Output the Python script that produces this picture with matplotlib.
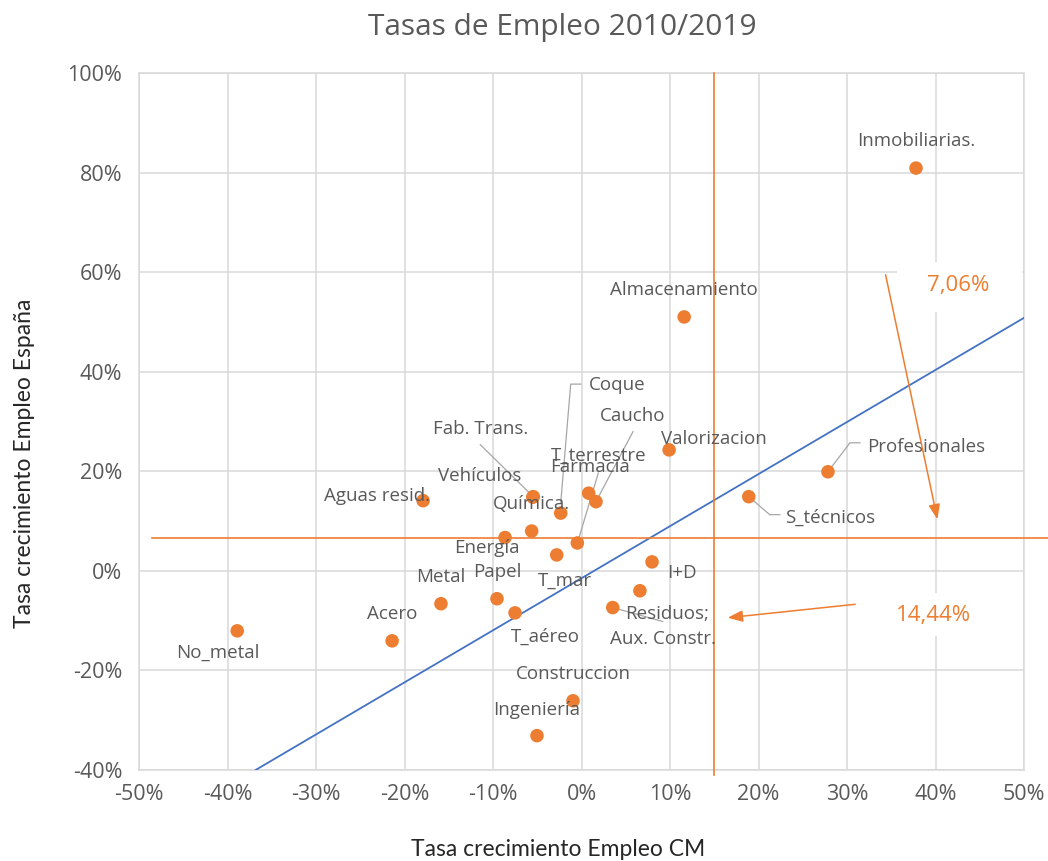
import matplotlib
matplotlib.use("Agg")
import matplotlib.pyplot as plt
from matplotlib import font_manager
from matplotlib.patches import Rectangle
import numpy as np

# ---------------- data ----------------
sectors = ["Inmobiliarias.", "Almacenamiento", "Valorizacion", "Profesionales", "S_técnicos",
           "Aguas resid.", "Fab. Trans.", "Vehículos", "Coque", "Farmacia", "Caucho",
           "Química.", "Energía", "T_terrestre", "T_mar", "I+D", "Aux. Constr.", "Residuos;",
           "Metal", "Papel", "T_aéreo", "Acero", "No_metal", "Construccion", "Ingeniería"]
growth_cm = [0.378, 0.116, 0.099, 0.2785, 0.189,
             -0.179, -0.0545, -0.055, -0.0235, 0.0081, 0.0164,
             -0.0563, -0.0864, -0.0047, -0.028, 0.0797, 0.066, 0.0353,
             -0.1588, -0.0955, -0.0751, -0.214, -0.389, -0.0096, -0.0503]
growth_es = [0.809, 0.510, 0.243, 0.199, 0.149,
             0.141, 0.149, 0.148, 0.116, 0.156, 0.139,
             0.080, 0.067, 0.056, 0.032, 0.018, -0.040, -0.0737,
             -0.066, -0.056, -0.0844, -0.1406, -0.1205, -0.261, -0.331]

ref_es_line = 0.066      # horizontal reference line (labelled 7,06%)
ref_cm_line = 0.1497     # vertical reference line (labelled 14,44%)
ref_es_text = "7,06%"
ref_cm_text = "14,44%"
trend_slope = 1.046
trend_intercept = -0.0148

x_ticks = [-0.5, -0.4, -0.3, -0.2, -0.1, 0.0, 0.1, 0.2, 0.3, 0.4, 0.5]
y_ticks = [-0.4, -0.2, 0.0, 0.2, 0.4, 0.6, 0.8, 1.0]
x_tick_labels = ["-50%", "-40%", "-30%", "-20%", "-10%", "0%", "10%", "20%", "30%", "40%", "50%"]
y_tick_labels = ["-40%", "-20%", "0%", "20%", "40%", "60%", "80%", "100%"]

# ---------------- style ----------------
def has_font(name):
    try:
        font_manager.findfont(name, fallback_to_default=False)
        return True
    except Exception:
        return False

MAIN_FONT = "Open Sans" if has_font("Open Sans") else "DejaVu Sans"
NARROW_FONT = "Lato" if has_font("Lato") else MAIN_FONT
plt.rcParams["font.family"] = [MAIN_FONT, "DejaVu Sans"]

GRAY = "#595959"
GRID = "#d9d9d9"
ORANGE = "#ED7D31"
BLUE = "#4472C4"

W, H = 1048, 861
fig = plt.figure(figsize=(W / 100, H / 100), dpi=100)
L, R, T, B = 139, 1024, 73, 770
ax = fig.add_axes([L / W, 1 - B / H, (R - L) / W, (B - T) / H])
ax.set_xlim(-0.5, 0.5)
ax.set_ylim(-0.4, 1.0)
ax.set_xticks(x_ticks)
ax.set_yticks(y_ticks)
ax.set_xticklabels(x_tick_labels)
ax.set_yticklabels(y_tick_labels)
ax.tick_params(length=0, labelsize=15.5, colors=GRAY)
ax.tick_params(axis="y", pad=12)
ax.tick_params(axis="x", pad=10)
ax.grid(True, color=GRID, linewidth=1.1)
ax.set_axisbelow(True)
for s in ax.spines.values():
    s.set_color(GRID)
    s.set_linewidth(1.1)

# px -> data helpers (for label offsets / annotation placement)
sx = 1.0 / (R - L)
sy = 1.4 / (B - T)

def px2data(px, py):
    return (-0.5 + (px - L) * sx, 1.0 - (py - T) * sy)

# trend line
tx = np.array([(-0.4 - trend_intercept) / trend_slope, 0.5])
ax.plot(tx, trend_intercept + trend_slope * tx, color=BLUE, lw=1.3, zorder=3)

# reference lines
ax.plot([-0.5 + 13 * sx, 0.5 + 24 * sx], [ref_es_line, ref_es_line], color=ORANGE, lw=1.2,
        clip_on=False, zorder=3)
ax.plot([ref_cm_line, ref_cm_line], [1.0, -0.4 - 5 * sy], color=ORANGE, lw=1.2,
        clip_on=False, zorder=3)

# points
ax.scatter(growth_cm, growth_es, s=95, color=ORANGE, edgecolors="none", zorder=5)

# label offsets in pixels (dx right, dy down)
label_offsets = {
    "Inmobiliarias.": (0, -27), "Almacenamiento": (0, -27), "Valorizacion": (45, -11),
    "Profesionales": (98, -25), "S_técnicos": (81, 21), "Aguas resid.": (-46, -5),
    "Fab. Trans.": (-53, -68), "Vehículos": (-53, -21), "Coque": (56, -128),
    "Farmacia": (1, -26), "Caucho": (37, -86), "Química.": (0, -27),
    "Energía": (-18, 10), "T_terrestre": (21, -87), "T_mar": (8, 26),
    "I+D": (30, 11), "Aux. Constr.": (23, 48), "Residuos;": (54, 6),
    "Metal": (0, -27), "Papel": (0, -27), "T_aéreo": (30, 24), "Acero": (0, -27),
    "No_metal": (-19, 22), "Construccion": (0, -27), "Ingeniería": (0, -26),
}
# leader polylines, pixel offsets from the point
leaders = {
    "Fab. Trans.": [(0, 0), (-53, -52)],
    "Coque": [(0, -10), (10, -129), (20, -129)],
    "Caucho": [(1, -2), (37, -70)],
    "T_terrestre": [(1, -3), (21, -70)],
    "Residuos;": [(0, 0), (50, 14)],
    "Profesionales": [(0, 0), (22, -29), (32, -29)],
    "S_técnicos": [(0, 0), (21, 18), (31, 18)],
}

for name, xv, yv in zip(sectors, growth_cm, growth_es):
    dx, dy = label_offsets[name]
    ax.text(xv + dx * sx, yv - dy * sy, name, ha="center", va="center",
            fontsize=13.5, color=GRAY, zorder=6)
    if name in leaders:
        pts = leaders[name]
        ax.plot([xv + p[0] * sx for p in pts], [yv - p[1] * sy for p in pts],
                color="#a6a6a6", lw=0.9, zorder=4, clip_on=False)

# annotation boxes (white) and arrows
for (x0, y0, x1, y1) in [(897, 262, 1022, 312), (872, 593, 998, 636)]:
    (dx0, dy0), (dx1, dy1) = px2data(x0, y1), px2data(x1, y0)
    ax.add_patch(Rectangle((dx0, dy0), dx1 - dx0, dy1 - dy0, fc="white", ec="none",
                           zorder=2.5, clip_on=False))

arrow_kw = dict(arrowstyle="-|>,head_length=0.9,head_width=0.35", color=ORANGE, lw=1.1)
ax.annotate("", xy=px2data(938, 522), xytext=px2data(885, 272), arrowprops=arrow_kw, zorder=7)
ax.text(*px2data(958, 286), ref_es_text, ha="center", va="center", fontsize=16, color=ORANGE,
        zorder=6)
ax.annotate("", xy=px2data(725, 618), xytext=px2data(858, 604), arrowprops=arrow_kw, zorder=7)
ax.text(*px2data(933, 615), ref_cm_text, ha="center", va="center", fontsize=16, color=ORANGE,
        zorder=6)

# titles
fig.text(562 / W, 1 - 27 / H, "Tasas de Empleo 2010/2019", ha="center", va="center",
         fontsize=21.5, color=GRAY)
fig.text(558 / W, 1 - 850 / H, "Tasa crecimiento Empleo CM", ha="center", va="center",
         fontsize=16.5, color="#262626", family=[NARROW_FONT, "DejaVu Sans"])
fig.text(25 / W, 1 - 463 / H, "Tasa crecimiento Empleo España", ha="center", va="center",
         rotation=90, fontsize=16.5, color="#262626", family=[NARROW_FONT, "DejaVu Sans"])

fig.savefig("out.png", dpi=100)
